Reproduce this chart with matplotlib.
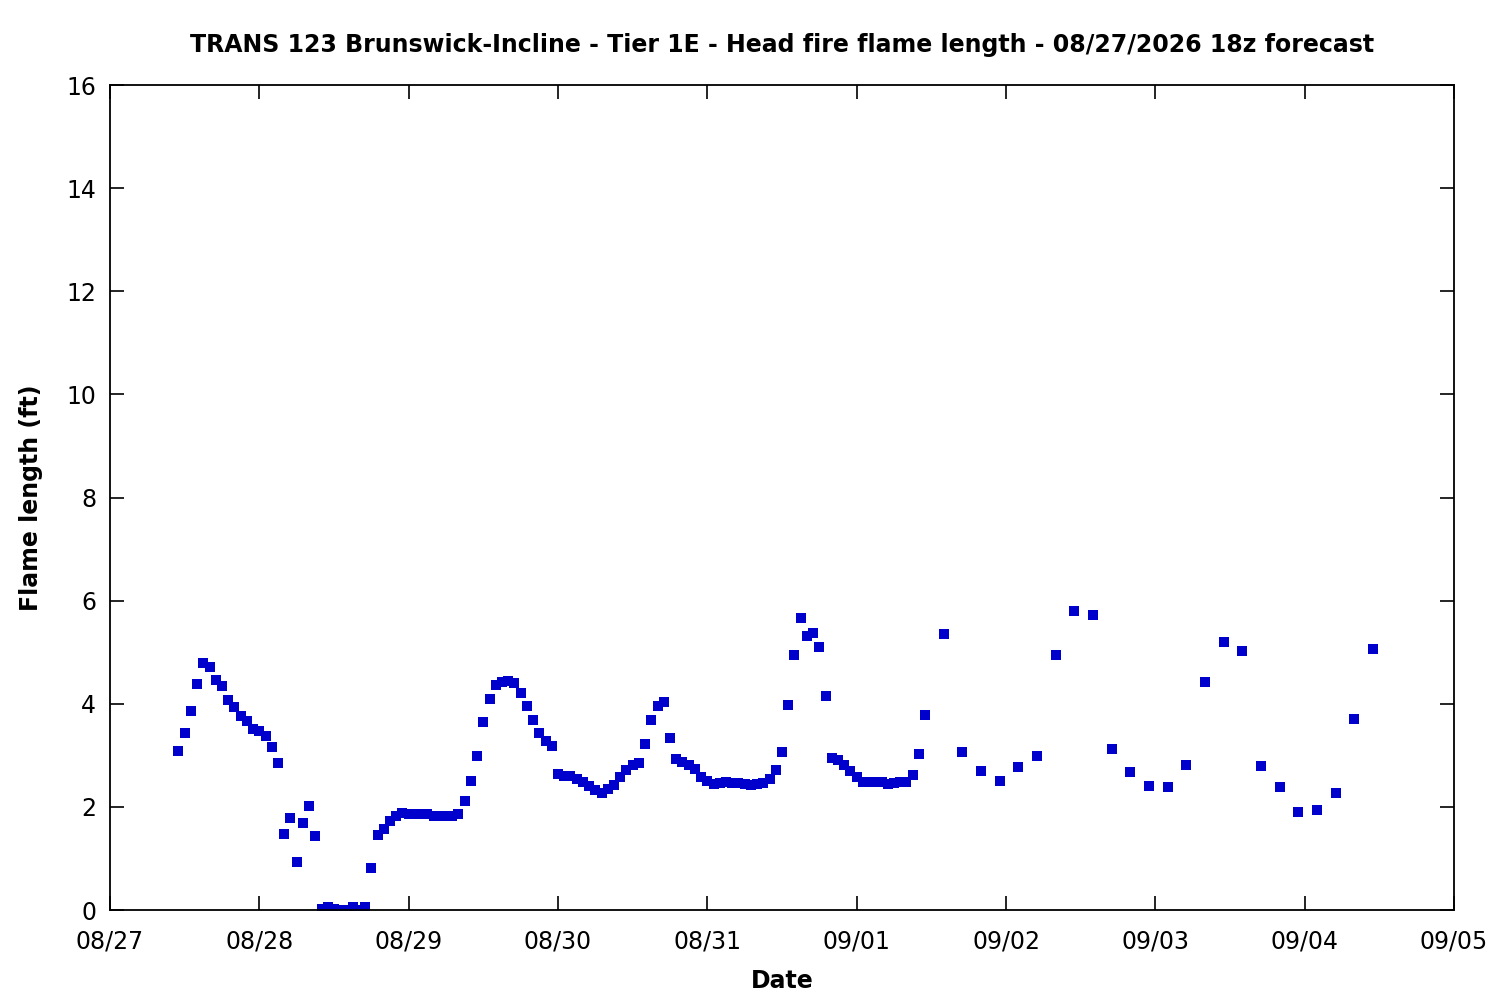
import matplotlib
matplotlib.use("Agg")
import matplotlib.pyplot as plt
import matplotlib.dates as mdates
import pandas as pd

title = "TRANS 123 Brunswick-Incline - Tier 1E - Head fire flame length - 08/27/2026 18z forecast"
x_label = "Date"
y_label = "Flame length (ft)"

# hourly forecast values starting 2026-08-27 11:00 (local)
hourly_start = "2026-08-27 11:00"
hourly_values = [
    3.09, 3.43, 3.85, 4.39, 4.80, 4.72, 4.47, 4.34, 4.07, 3.93,
    3.77, 3.66, 3.52, 3.48, 3.37, 3.17, 2.86, 1.47, 1.78, 0.94,
    1.68, 2.01, 1.43, 0.02, 0.06, 0.02, 0.00, 0.00, 0.06, 0.00,
    0.06, 0.81, 1.45, 1.58, 1.72, 1.82, 1.89, 1.86, 1.87, 1.87,
    1.86, 1.82, 1.82, 1.82, 1.82, 1.87, 2.11, 2.51, 2.98, 3.64,
    4.10, 4.36, 4.43, 4.45, 4.40, 4.20, 3.95, 3.68, 3.44, 3.27,
    3.19, 2.63, 2.59, 2.59, 2.55, 2.49, 2.40, 2.32, 2.26, 2.34,
    2.42, 2.57, 2.71, 2.82, 2.86, 3.21, 3.68, 3.95, 4.03, 3.33,
    2.92, 2.88, 2.82, 2.73, 2.57, 2.51, 2.44, 2.46, 2.48, 2.46,
    2.46, 2.44, 2.42, 2.44, 2.46, 2.54, 2.71, 3.06, 3.97, 4.94,
    5.66, 5.31, 5.38, 5.11, 4.16, 2.94, 2.90, 2.81, 2.69, 2.57,
    2.49, 2.49, 2.48, 2.48, 2.44, 2.46, 2.48, 2.49, 2.61, 3.02,
    3.78,
]

# 3-hourly forecast values starting 2026-09-01 14:00 (local)
three_hourly_start = "2026-09-01 14:00"
three_hourly_values = [
    5.36, 3.06, 2.69, 2.51, 2.78, 2.98, 4.94, 5.79, 5.72, 3.12,
    2.67, 2.40, 2.38, 2.82, 4.43, 5.19, 5.02, 2.79, 2.38, 1.91,
    1.93, 2.26, 3.71, 5.07,
]

x_range = ("2026-08-27", "2026-09-05")
y_range = (0, 16)

t1 = pd.date_range(hourly_start, periods=len(hourly_values), freq="h")
t2 = pd.date_range(three_hourly_start, periods=len(three_hourly_values), freq="3h")
times = list(t1) + list(t2)
values = hourly_values + three_hourly_values

fig = plt.figure(figsize=(15, 10), dpi=100)
ax = fig.add_axes([110/1500, 1-910/1000, (1454-110)/1500, (910-85)/1000])

ax.plot(times, values, linestyle="none", marker="s", markersize=6.6,
        color="#0000cc", markeredgewidth=0)

ax.set_xlim(pd.Timestamp(x_range[0]), pd.Timestamp(x_range[1]))
ax.set_ylim(*y_range)
ax.xaxis.set_major_locator(mdates.DayLocator())
ax.xaxis.set_major_formatter(mdates.DateFormatter("%m/%d"))
ax.set_yticks(range(0, 17, 2))

ax.tick_params(direction="in", length=10, width=1.2, top=True, right=True,
               labelsize=17)
ax.tick_params(axis="x", pad=14)
ax.tick_params(axis="y", pad=10)
for s in ax.spines.values():
    s.set_linewidth(1.3)

ax.set_title(title, fontsize=17, fontweight="bold", pad=24)
ax.set_xlabel(x_label, fontsize=17, fontweight="bold", labelpad=11)
ax.set_ylabel(y_label, fontsize=17, fontweight="bold", labelpad=17)

fig.savefig("out.png", dpi=100)
